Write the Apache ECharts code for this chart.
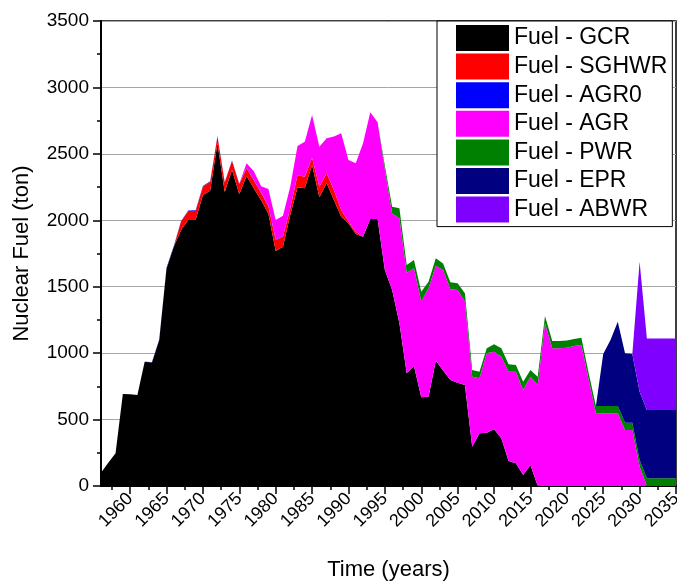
<!DOCTYPE html>
<html>
<head>
<meta charset="utf-8">
<script src="https://cdn.jsdelivr.net/npm/echarts@6/dist/echarts.min.js"></script>
<style>
  html, body { margin: 0; padding: 0; background: #fff; }
  #chart { width: 677px; height: 581px; }
</style>
</head>
<body>
<div id="chart"></div>
<script>
// Years of the fuel inventory, 1956 - 2035
const years = [
  1956, 1957, 1958, 1959, 1960, 1961, 1962, 1963, 1964, 1965,
  1966, 1967, 1968, 1969, 1970, 1971, 1972, 1973, 1974, 1975,
  1976, 1977, 1978, 1979, 1980, 1981, 1982, 1983, 1984, 1985,
  1986, 1987, 1988, 1989, 1990, 1991, 1992, 1993, 1994, 1995,
  1996, 1997, 1998, 1999, 2000, 2001, 2002, 2003, 2004, 2005,
  2006, 2007, 2008, 2009, 2010, 2011, 2012, 2013, 2014, 2015,
  2016, 2017, 2018, 2019, 2020, 2021, 2022, 2023, 2024, 2025,
  2026, 2027, 2028, 2029, 2030, 2031, 2032, 2033, 2034, 2035
];

// Fuel per reactor type (ton), one value per year above
const fuelGCR = [
  100, 175, 246, 692, 690, 685, 936, 930, 1099, 1638,
  1801, 1927, 2002, 2002, 2190, 2223, 2580, 2212, 2378, 2196,
  2333, 2240, 2150, 2050, 1769, 1801, 2040, 2248, 2241, 2416,
  2173, 2278, 2153, 2027, 1977, 1897, 1877, 2010, 2010, 1626,
  1475, 1225, 848, 903, 668, 672, 943, 870, 798, 778,
  760, 296, 397, 401, 427, 359, 188, 171, 83, 158,
  0, 0, 0, 0, 0, 0, 0, 0, 0, 0,
  0, 0, 0, 0, 0, 0, 0, 0, 0, 0
];
const fuelSGHWR = [
  0, 0, 0, 0, 0, 0, 0, 0, 0, 0,
  0, 63, 68, 68, 63, 67, 50, 72, 68, 75,
  58, 60, 55, 55, 83, 76, 50, 93, 87, 55,
  80, 76, 75, 50, 13, 17, 0, 0, 0, 0,
  0, 0, 0, 0, 0, 0, 0, 0, 0, 0,
  0, 0, 0, 0, 0, 0, 0, 0, 0, 0,
  0, 0, 0, 0, 0, 0, 0, 0, 0, 0,
  0, 0, 0, 0, 0, 0, 0, 0, 0, 0
];
const fuelAGR0 = [
  0, 0, 0, 0, 0, 0, 0, 3, 4, 4,
  5, 5, 4, 5, 5, 4, 4, 5, 4, 4,
  5, 4, 4, 3, 3, 3, 0, 0, 0, 0,
  0, 0, 0, 0, 0, 0, 0, 0, 0, 0,
  0, 0, 0, 0, 0, 0, 0, 0, 0, 0,
  0, 0, 0, 0, 0, 0, 0, 0, 0, 0,
  0, 0, 0, 0, 0, 0, 0, 0, 0, 0,
  0, 0, 0, 0, 0, 0, 0, 0, 0, 0
];
const fuelAGR = [
  0, 0, 0, 0, 0, 0, 0, 0, 0, 0,
  0, 0, 0, 0, 0, 0, 0, 0, 0, 0,
  33, 66, 48, 128, 148, 155, 163, 218, 264, 321,
  301, 263, 402, 578, 464, 515, 703, 803, 728, 754,
  577, 790, 758, 736, 720, 816, 715, 755, 683, 697,
  628, 527, 414, 598, 584, 614, 672, 689, 640, 665,
  760, 1225, 1036, 1036, 1041, 1054, 1061, 800, 547, 547,
  547, 547, 421, 421, 146, 0, 0, 0, 0, 0
];
const fuelPWR = [
  0, 0, 0, 0, 0, 0, 0, 0, 0, 0,
  0, 0, 0, 0, 0, 0, 0, 0, 0, 0,
  0, 0, 0, 0, 0, 0, 0, 0, 0, 0,
  0, 0, 0, 0, 0, 0, 0, 0, 0, 30,
  50, 75, 57, 62, 75, 50, 56, 50, 52, 51,
  62, 50, 49, 37, 55, 63, 56, 51, 62, 50,
  63, 55, 55, 55, 55, 52, 55, 50, 55, 55,
  55, 55, 56, 56, 50, 58, 58, 58, 58, 58
];
const fuelEPR = [
  0, 0, 0, 0, 0, 0, 0, 0, 0, 0,
  0, 0, 0, 0, 0, 0, 0, 0, 0, 0,
  0, 0, 0, 0, 0, 0, 0, 0, 0, 0,
  0, 0, 0, 0, 0, 0, 0, 0, 0, 0,
  0, 0, 0, 0, 0, 0, 0, 0, 0, 0,
  0, 0, 0, 0, 0, 0, 0, 0, 0, 0,
  0, 0, 0, 0, 0, 0, 0, 0, 0, 392,
  497, 635, 522, 517, 514, 514, 514, 514, 514, 514
];
const fuelABWR = [
  0, 0, 0, 0, 0, 0, 0, 0, 0, 0,
  0, 0, 0, 0, 0, 0, 0, 0, 0, 0,
  0, 0, 0, 0, 0, 0, 0, 0, 0, 0,
  0, 0, 0, 0, 0, 0, 0, 0, 0, 0,
  0, 0, 0, 0, 0, 0, 0, 0, 0, 0,
  0, 0, 0, 0, 0, 0, 0, 0, 0, 0,
  0, 0, 0, 0, 0, 0, 0, 0, 0, 0,
  0, 0, 0, 0, 978, 539, 539, 539, 539, 539
];

// Axis labels and tick positions
const xLabelYears = [1960, 1965, 1970, 1975, 1980, 1985, 1990, 1995, 2000, 2005, 2010, 2015, 2020, 2025, 2030, 2035];
const xMinorTickYears = [1957.5, 1962.5, 1967.5, 1972.5, 1977.5, 1982.5, 1987.5, 1992.5, 1997.5, 2002.5, 2007.5, 2012.5, 2017.5, 2022.5, 2027.5, 2032.5];

const seriesDefs = [
  { name: 'Fuel - GCR',   values: fuelGCR,   color: '#000000' },
  { name: 'Fuel - SGHWR', values: fuelSGHWR, color: '#ff0000' },
  { name: 'Fuel - AGR0',  values: fuelAGR0,  color: '#0000ff' },
  { name: 'Fuel - AGR',   values: fuelAGR,   color: '#ff00ff' },
  { name: 'Fuel - PWR',   values: fuelPWR,   color: '#008000' },
  { name: 'Fuel - EPR',   values: fuelEPR,   color: '#000080' },
  { name: 'Fuel - ABWR',  values: fuelABWR,  color: '#8000ff' }
];

const FONT = '"Liberation Sans", Arial, Helvetica, sans-serif';
const plain = v => String(v);

const chart = echarts.init(document.getElementById('chart'), null, { renderer: 'canvas' });

chart.setOption({
  animation: false,
  backgroundColor: '#ffffff',
  textStyle: { fontFamily: FONT, color: '#000' },
  grid: {
    left: 101, top: 21, right: 1, bottom: 95,
    outerBoundsMode: 'none',
    containLabel: false,
    show: true, borderColor: '#000', borderWidth: 1.5,
    backgroundColor: 'transparent'
  },
  legend: {
    orient: 'vertical',
    left: 437, top: 21,
    icon: 'rect',
    itemWidth: 53, itemHeight: 26, itemGap: 2.6,
    padding: [4, 5, 4, 19],
    borderColor: '#000', borderWidth: 1,
    backgroundColor: '#fff',
    borderRadius: 0,
    textStyle: { fontSize: 23, color: '#000', fontFamily: FONT },
    data: seriesDefs.map(s => s.name)
  },
  xAxis: [
    {
      // year categories carrying the stacked areas
      type: 'category', data: years, boundaryGap: false,
      axisLine: { show: false }, axisTick: { show: false },
      axisLabel: { show: false }, splitLine: { show: false }
    },
    {
      // major ticks, labels and title on a continuous year scale
      type: 'value', min: 1956, max: 2035, position: 'bottom',
      name: 'Time (years)', nameLocation: 'middle', nameGap: 73,
      nameTextStyle: { fontSize: 22, color: '#000', fontFamily: FONT },
      axisLine: { show: true, onZero: false, lineStyle: { color: '#000', width: 2 } },
      axisTick: { show: true, inside: false, length: 8, lineStyle: { color: '#000', width: 1.5 }, customValues: xLabelYears },
      axisLabel: { rotate: 45, fontSize: 18, color: '#000', margin: 10, customValues: xLabelYears, formatter: plain, fontFamily: FONT },
      splitLine: { show: false }
    },
    {
      // minor ticks every 2.5 years
      type: 'value', min: 1956, max: 2035, position: 'bottom',
      axisLine: { show: false, onZero: false },
      axisTick: { show: true, inside: false, length: 4, lineStyle: { color: '#000', width: 1.5 }, customValues: xMinorTickYears },
      axisLabel: { show: false },
      splitLine: { show: false }
    }
  ],
  yAxis: {
    type: 'value', min: 0, max: 3500, interval: 500,
    name: 'Nuclear Fuel (ton)', nameLocation: 'middle', nameGap: 68,
    nameTextStyle: { fontSize: 22, color: '#000', fontFamily: FONT },
    axisLine: { show: true, lineStyle: { color: '#000', width: 2 } },
    axisTick: { show: true, inside: false, length: 8, lineStyle: { color: '#000', width: 1.5 } },
    minorTick: { show: true, splitNumber: 2, length: 4, lineStyle: { color: '#000', width: 1.5 } },
    axisLabel: { fontSize: 19, color: '#000', margin: 12, formatter: plain, fontFamily: FONT },
    splitLine: { show: true, lineStyle: { color: '#a6a6a6', width: 1 } }
  },
  series: seriesDefs.map(s => ({
    name: s.name,
    type: 'line',
    stack: 'fuel',
    xAxisIndex: 0,
    color: s.color,
    symbol: 'none',
    showSymbol: false,
    lineStyle: { width: 0, color: s.color },
    areaStyle: { color: s.color, opacity: 1 },
    itemStyle: { color: s.color },
    emphasis: { disabled: true },
    data: s.values
  }))
});
</script>
</body>
</html>
